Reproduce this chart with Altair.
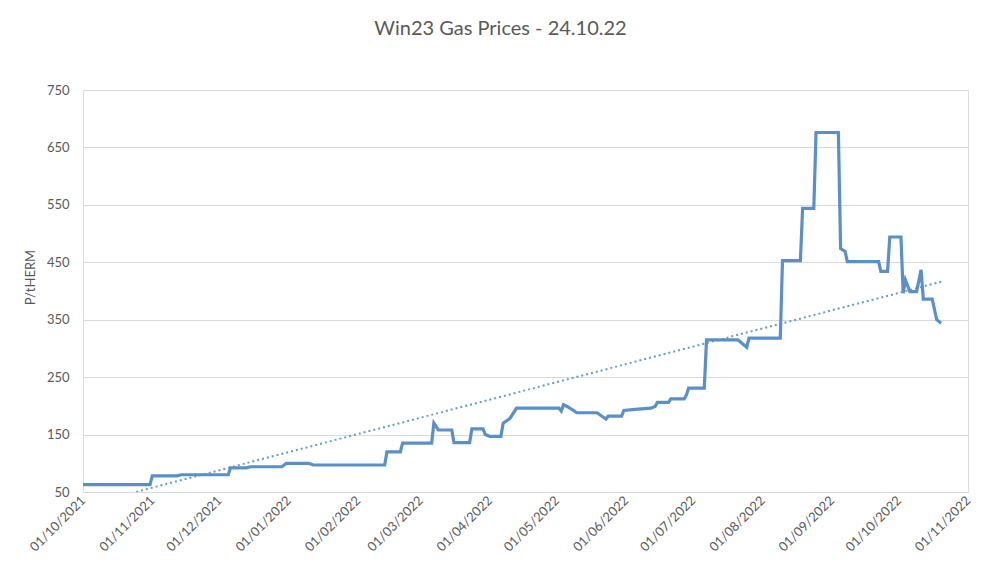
import altair as alt
import pandas as pd

# Price series
dates = [
    "2021-10-01", "2021-10-31", "2021-11-01", "2021-11-12", "2021-11-14", "2021-12-05",
    "2021-12-06", "2021-12-13", "2021-12-15", "2021-12-29", "2021-12-31", "2022-01-10",
    "2022-01-12", "2022-02-13", "2022-02-14", "2022-02-20", "2022-02-21", "2022-03-06",
    "2022-03-07", "2022-03-09", "2022-03-15", "2022-03-16", "2022-03-23", "2022-03-24",
    "2022-03-29", "2022-03-30", "2022-04-01", "2022-04-06", "2022-04-07", "2022-04-10",
    "2022-04-13", "2022-05-02", "2022-05-03", "2022-05-04", "2022-05-06", "2022-05-10",
    "2022-05-19", "2022-05-23", "2022-05-24", "2022-05-30", "2022-05-31", "2022-06-05",
    "2022-06-12", "2022-06-14", "2022-06-15", "2022-06-20", "2022-06-21", "2022-06-27",
    "2022-06-28", "2022-06-29", "2022-07-06", "2022-07-07", "2022-07-21", "2022-07-25",
    "2022-07-26", "2022-08-09", "2022-08-10", "2022-08-18", "2022-08-19", "2022-08-24",
    "2022-08-25", "2022-09-04", "2022-09-05", "2022-09-07", "2022-09-08", "2022-09-22",
    "2022-09-23", "2022-09-26", "2022-09-27", "2022-10-02", "2022-10-03", "2022-10-04",
    "2022-10-06", "2022-10-09", "2022-10-11", "2022-10-12", "2022-10-16", "2022-10-18",
    "2022-10-20",
]
prices = [
    63, 63, 78, 78, 80, 80,
    92, 92, 94, 94, 100, 100,
    97, 97, 120, 120, 135, 135,
    170, 158, 158, 136, 136, 160,
    160, 150, 147, 147, 170, 178,
    196, 196, 191, 202, 198, 188,
    188, 177, 182, 182, 192, 194,
    196, 199, 206, 206, 212, 212,
    219, 231, 231, 315, 315, 302,
    318, 318, 453, 453, 544, 544,
    676, 676, 474, 469, 451, 451,
    434, 434, 494, 494, 396, 419,
    399, 399, 437, 386, 386, 350,
    344,
]

# Linear trend line end points
trend_dates = ["2021-10-01", "2022-10-20"]
trend_values = [26, 416]

y_ticks = [50, 150, 250, 350, 450, 550, 650, 750]
month_ticks = [(2021, 10), (2021, 11), (2021, 12), (2022, 1), (2022, 2), (2022, 3), (2022, 4),
               (2022, 5), (2022, 6), (2022, 7), (2022, 8), (2022, 9), (2022, 10), (2022, 11)]

df = pd.DataFrame({"date": dates, "price": prices})
trend = pd.DataFrame({"date": trend_dates, "price": trend_values})

FONT = "Lato"
GREY = "#595959"

x_scale = alt.Scale(type="utc",
                    domain=[alt.DateTime(year=2021, month=10, date=1, utc=True),
                            alt.DateTime(year=2022, month=11, date=1, utc=True)])
y_scale = alt.Scale(domain=[50, 750], nice=False, zero=False)

x_axis = alt.Axis(
    values=[alt.DateTime(year=y, month=m, date=1, utc=True) for y, m in month_ticks],
    format="%d/%m/%Y", labelAngle=-45, labelAlign="right", labelBaseline="middle",
    labelFont=FONT, labelFontSize=13, labelColor=GREY, labelPadding=6,
    ticks=False, domain=False, grid=False, title=None, labelOverlap=False, labelFlush=False,
)
y_axis = alt.Axis(
    values=y_ticks, labelFont=FONT, labelFontSize=13, labelColor=GREY, labelPadding=14,
    ticks=False, domain=False, grid=True, gridColor="#D9D9D9", gridWidth=1,
    title="P/tHERM", titleFont=FONT, titleFontSize=13, titleColor=GREY,
    titleFontWeight="normal", titleX=-46, titleY=187,
)

line = alt.Chart(df).mark_line(color="#5B8FC8", strokeWidth=3.2, strokeJoin="miter").encode(
    x=alt.X("date:T", scale=x_scale, axis=x_axis),
    y=alt.Y("price:Q", scale=y_scale, axis=y_axis),
)

trend_line = alt.Chart(trend).mark_line(
    color="#6A9BC0", strokeWidth=2, strokeDash=[2, 3], clip=True
).encode(
    x=alt.X("date:T", scale=x_scale),
    y=alt.Y("price:Q", scale=y_scale),
)

chart = alt.layer(trend_line, line).properties(
    width=885, height=402,
    autosize=alt.AutoSizeParams(type="none"),
    padding={"left": 75, "top": 82, "right": 24, "bottom": 77},
    title=alt.Title("Win23 Gas Prices - 24.10.22", font=FONT, fontSize=20,
                    fontWeight="normal", color=GREY, baseline="bottom",
                    offset=25, dx=-25),
).configure_view(stroke=None).configure(background="white")

chart.save("out.html", embed_options={"renderer": "svg", "actions": False})
